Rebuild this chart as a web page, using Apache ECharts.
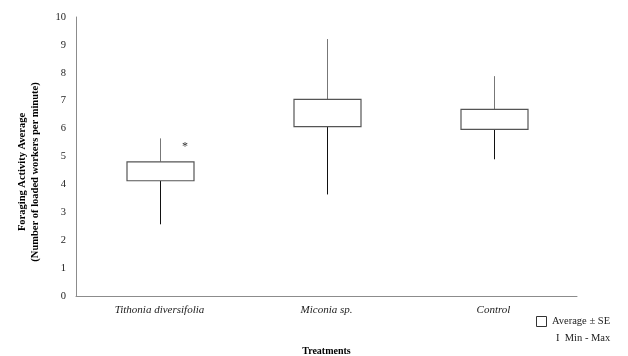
<!DOCTYPE html>
<html><head><meta charset="utf-8">
<script src="https://cdn.jsdelivr.net/npm/echarts@6/dist/echarts.min.js"></script>
<style>html,body{margin:0;padding:0;background:#fff}#c{width:628px;height:356px}</style>
</head><body><div id="c"></div>
<script>
var categories = ['Tithonia diversifolia', 'Miconia sp.', 'Control'];
var minVals = [2.57, 3.64, 4.90];
var seLow = [4.13, 6.07, 5.97];
var seHigh = [4.81, 7.05, 6.69];
var maxVals = [5.65, 9.21, 7.88];
var yTicks = [0, 1, 2, 3, 4, 5, 6, 7, 8, 9, 10];
var markCategory = 0, markValue = 5.35, markText = '*';

var font = '"Liberation Serif","DejaVu Serif",serif';
var data = categories.map(function (c, i) { return [i, minVals[i], seLow[i], seHigh[i], maxVals[i]]; });

var chart = echarts.init(document.getElementById('c'));
chart.setOption({
  animation: false,
  grid: { left: 76, right: 51, top: 17, bottom: 60, outerBoundsMode: 'none', containLabel: false },
  xAxis: {
    type: 'category', data: categories,
    name: 'Treatments', nameLocation: 'middle', nameGap: 50,
    nameTextStyle: { fontFamily: font, fontWeight: 'bold', fontSize: 10, color: '#000' },
    axisLine: { lineStyle: { color: '#8c8c8c', width: 1 } },
    axisTick: { show: false },
    axisLabel: { fontFamily: font, fontStyle: 'italic', fontSize: 11, color: '#222', margin: 9 }
  },
  yAxis: {
    type: 'value', min: 0, max: 10, interval: 1,
    axisLine: { show: true, lineStyle: { color: '#8c8c8c', width: 1 } },
    axisTick: { show: false },
    splitLine: { show: false },
    axisLabel: { fontFamily: font, fontSize: 10.5, color: '#222', margin: 10,
      formatter: function (v) { return yTicks.indexOf(v) >= 0 ? String(v) : ''; } }
  },
  graphic: [
    { type: 'text', x: 29, y: 172, rotation: Math.PI / 2, style: {
      text: 'Foraging Activity Average\n(Number of loaded workers per minute)',
      font: 'bold 10.5px ' + font, fill: '#000', align: 'center', verticalAlign: 'middle', lineHeight: 13 } },
    { type: 'rect', shape: { x: 536.5, y: 316.5, width: 10, height: 10 }, style: { fill: '#fff', stroke: '#333', lineWidth: 1 } },
    { type: 'text', x: 552, y: 321.5, style: { text: 'Average \u00b1 SE', font: '10.5px ' + font, fill: '#222', verticalAlign: 'middle' } },
    { type: 'text', x: 556, y: 338.5, style: { text: 'I  Min - Max', font: '10.5px ' + font, fill: '#222', verticalAlign: 'middle' } }
  ],
  series: [{
    type: 'custom',
    data: data,
    renderItem: function (params, api) {
      var x = api.value(0);
      var pMin = api.coord([x, api.value(1)]);
      var pLo = api.coord([x, api.value(2)]);
      var pHi = api.coord([x, api.value(3)]);
      var pMax = api.coord([x, api.value(4)]);
      var bw = api.size([1, 0])[0] * 0.4;
      var cx = Math.round(pLo[0]) + 0.5;
      return { type: 'group', children: [
        { type: 'line', shape: { x1: cx, y1: pHi[1], x2: cx, y2: pMax[1] }, style: { stroke: '#777', lineWidth: 1 } },
        { type: 'line', shape: { x1: cx, y1: pLo[1], x2: cx, y2: pMin[1] }, style: { stroke: '#111', lineWidth: 1 } },
        { type: 'rect', shape: { x: Math.round(cx - bw / 2), y: pHi[1], width: Math.round(bw), height: pLo[1] - pHi[1] },
          style: { fill: '#fff', stroke: '#555', lineWidth: 1.2 } }
      ] };
    }
  }, {
    type: 'custom',
    data: [[markCategory, markValue]],
    renderItem: function (params, api) {
      var p = api.coord([api.value(0), api.value(1)]);
      var bw = api.size([1, 0])[0] * 0.4;
      return { type: 'text', x: p[0] + bw / 2 - 8, y: p[1], style: { text: markText, font: '12px ' + font, fill: '#333', align: 'center', verticalAlign: 'middle' } };
    }
  }]
});
</script></body></html>
